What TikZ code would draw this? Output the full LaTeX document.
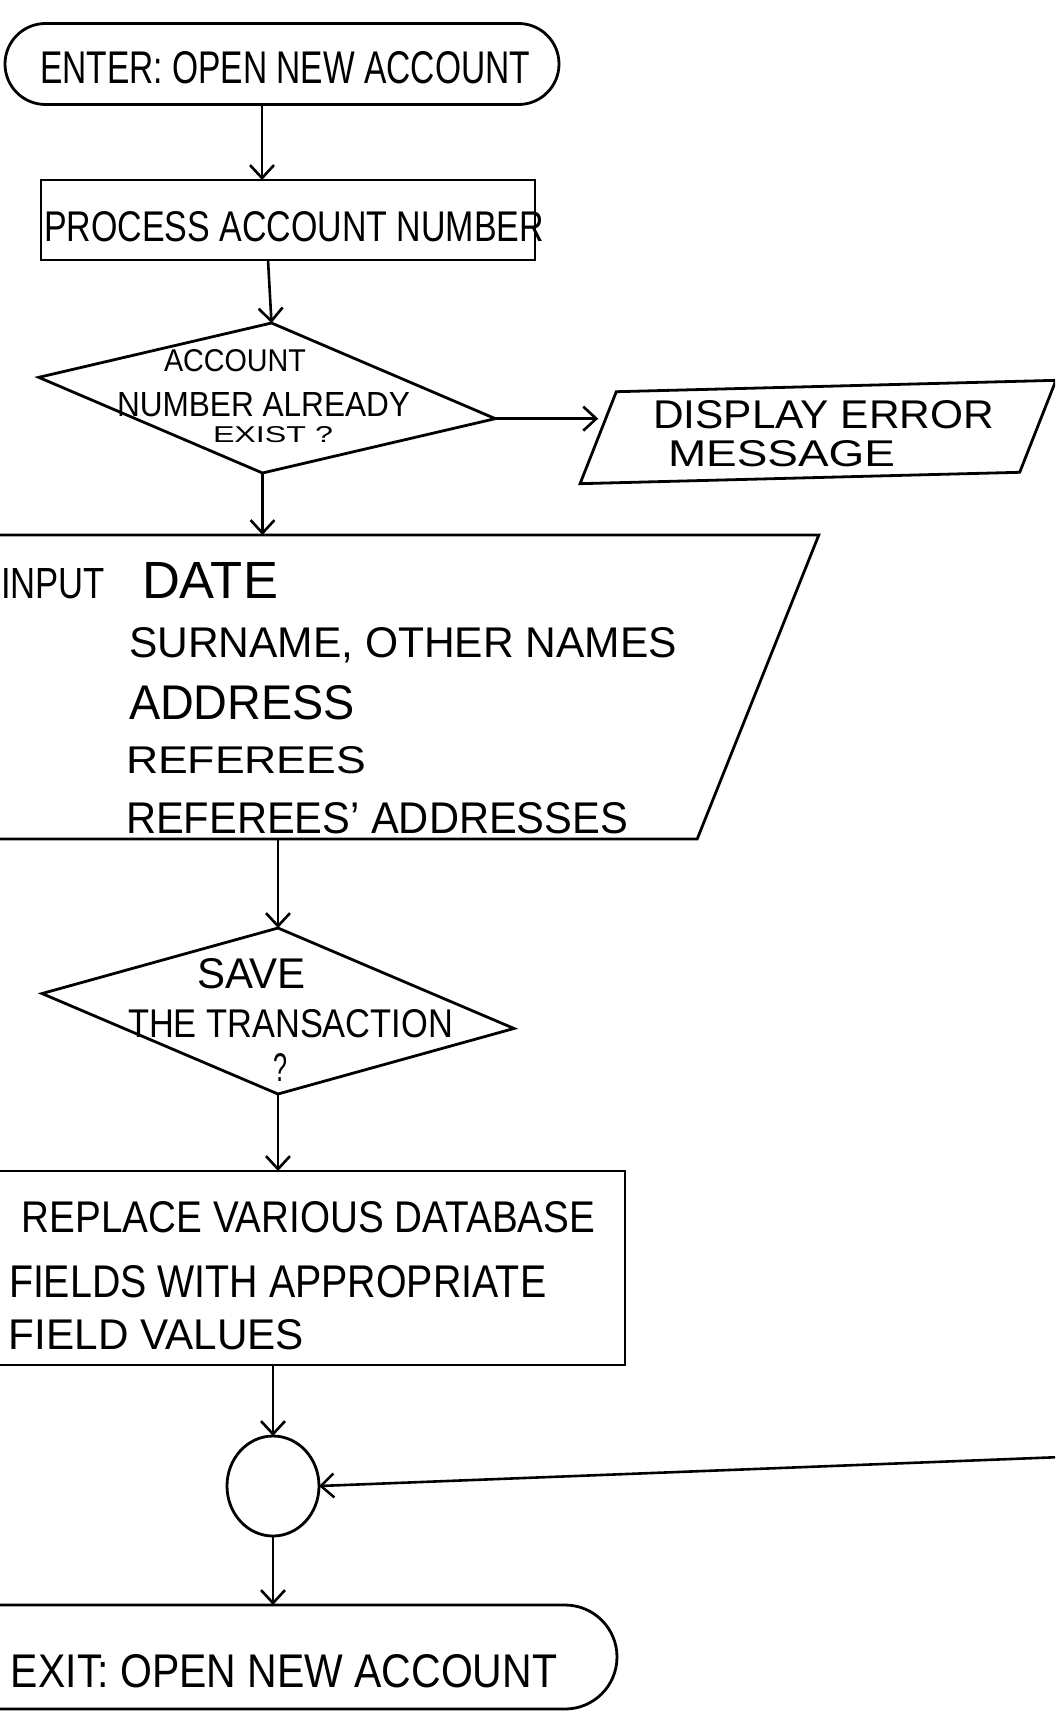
\documentclass[tikz,border=0pt]{standalone}
\usepackage{graphicx}
\usepackage{fontspec}
\setmainfont{Liberation Sans}
\usetikzlibrary{arrows.meta,shapes.geometric,shapes.misc}
% hand-lettered line: width, cap height, text
\newcommand{\hw}[3]{\resizebox{#1pt}{#2pt}{#3}}
\begin{document}
\begin{tikzpicture}[x=1pt,y=-1pt,line width=2.8pt,
  shapebox/.style={draw,line width=2.8pt,inner sep=0pt,outer sep=0pt},
  arr/.style={line width=2.6pt,-{Straight Barb[length=13pt,width=24pt]}},
  txt/.style={anchor=base west,inner sep=0pt,outer sep=0pt}]
\useasboundingbox (0,0) rectangle (1055,1712);
\fill[white] (0,0) rectangle (1055,1712);
\clip (0,0) rectangle (1055,1712);

% ---- shapes
\node[shapebox,rounded rectangle,minimum width=554pt,minimum height=81pt] (start) at (282,64) {};
\node[shapebox,rectangle,minimum width=494pt,minimum height=80pt] (proc) at (288,220) {};
\node[shapebox,diamond,minimum width=459pt,minimum height=150pt,xslant=0.06,yslant=-0.09] (dec1) at (267,398) {};
% input/output boxes: slanted rectangles
\node[shapebox,rectangle,minimum width=435pt,minimum height=92pt,xslant=0.42,rotate=1.5] (err) at (818,432) {};
\node[shapebox,rectangle,minimum width=829pt,minimum height=304pt,xslant=0.40] (inp) at (343.5,687) {};
\node[shapebox,diamond,minimum width=472pt,minimum height=166pt,yslant=-0.074] (dec2) at (278,1011) {};
\node[shapebox,rectangle,minimum width=645pt,minimum height=194pt] (rep) at (302.5,1268) {};
\node[shapebox,ellipse,minimum width=92pt,minimum height=100pt] (circ) at (273,1486) {};
\node[shapebox,rounded rectangle,minimum width=677pt,minimum height=104pt] (exit) at (278.5,1657) {};
\coordinate (loopin) at (1062,1457);

% ---- texts
\node[txt] (tStart) at (40,84) {\hw{490}{32}{ENTER: OPEN NEW ACCOUNT}};
\node[txt] (tProc) at (44,242) {\hw{500}{30}{PROCESS ACCOUNT NUMBER}};
\node[txt] (tD1a) at (164,371) {\hw{142}{22}{ACCOUNT}};
\node[txt] (tD1b) at (117,416) {\hw{293}{24}{NUMBER ALREADY}};
\node[txt] (tD1c) at (213,442) {\hw{120}{16}{EXIST ?}};
\node[txt] (tErrA) at (653,428) {\hw{341}{28}{DISPLAY ERROR}};
\node[txt] (tErrB) at (668,466) {\hw{227}{26}{MESSAGE}};
\node[txt] (tIn0) at (1,598) {\hw{104}{30}{INPUT}};
\node[txt] (tIn1) at (142,598) {\hw{136}{36}{DATE}};
\node[txt] (tIn2) at (129,657) {\hw{548}{30}{SURNAME, OTHER NAMES}};
\node[txt] (tIn3) at (129,719) {\hw{226}{34}{ADDRESS}};
\node[txt] (tIn4) at (126,773) {\hw{240}{27}{REFEREES}};
\node[txt] (tIn5) at (126,833) {\hw{502}{31}{REFEREES' ADDRESSES}};
\node[txt] (tD2a) at (197,988) {\hw{109}{30}{SAVE}};
\node[txt] (tD2b) at (128,1037) {\hw{325}{28}{THE TRANSACTION}};
\node[txt] (tD2c) at (273,1081) {\hw{14}{28}{?}};
\node[txt] (tRep1) at (22,1232) {\hw{573}{31}{REPLACE VARIOUS DATABASE}};
\node[txt] (tRep2) at (9,1297) {\hw{537}{32}{FIELDS WITH APPROPRIATE}};
\node[txt] (tRep3) at (9,1349) {\hw{295}{30}{FIELD VALUES}};
\node[txt] (tExit) at (11,1687) {\hw{546}{33}{EXIT: OPEN NEW ACCOUNT}};

% ---- connectors
\draw[arr] ([xshift=-20pt]start.south) -- ([xshift=-26pt]proc.north);
\draw[arr] ([xshift=-20pt]proc.south) -- (dec1.north);
\draw[arr] (dec1.east) -- (dec1.east -| err.west);
\draw[arr] (dec1.south) -- (dec1.south |- inp.north);
\draw[arr] (dec2.north |- inp.south) -- (dec2.north);
\draw[arr] (dec2.south) -- (dec2.south |- rep.north);
\draw[arr] (circ.north |- rep.south) -- (circ.north);
\draw[arr] (loopin) -- (circ.east);
\draw[arr] (circ.south) -- (circ.south |- exit.north);
\end{tikzpicture}
\end{document}
